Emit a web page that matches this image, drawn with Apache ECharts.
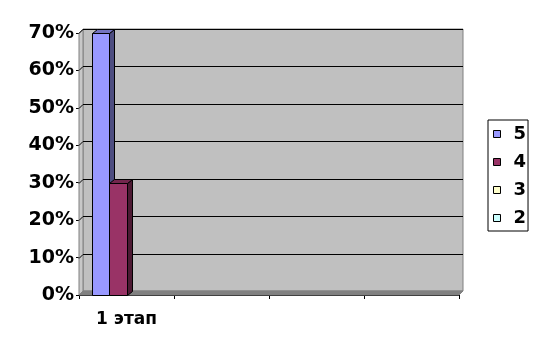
<!DOCTYPE html>
<html><head><meta charset="utf-8">
<script src="https://cdn.jsdelivr.net/npm/echarts@6/dist/echarts.min.js"></script>
<style>html,body{margin:0;padding:0;background:#fff}#c{width:538px;height:349px}</style>
</head><body><div id="c"></div>
<script>
var categories = ['1 этап', '', '', ''];
var seriesNames = ['5', '4', '3', '2'];
var s5 = [0.70, null, null, null];
var s4 = [0.30, null, null, null];
var s3 = [0, null, null, null];
var s2 = [0, null, null, null];
var yTicks = [0, 0.1, 0.2, 0.3, 0.4, 0.5, 0.6, 0.7];

var seriesValues = [s5, s4, s3, s2];
var frontColors = ['#9999FF', '#993366', '#FFFFCC', '#CCFFFF'];
var sideColors = ['#4D4D80', '#4D1A33', '#808066', '#668080'];
var topColors = ['#7373BF', '#73264D', '#BFBF99', '#99BFBF'];
var DX = 5, DY = -4, WD = 4;

var chart = echarts.init(document.getElementById('c'));

function wallRender(params, api) {
  var cs = params.coordSys;
  var x0 = cs.x, x1 = cs.x + cs.width, yT = cs.y, y0 = cs.y + cs.height;
  var kids = [];
  kids.push({type:'polygon', shape:{points:[[x0+WD,yT-WD],[x1+WD,yT-WD],[x1+WD,y0-WD],[x0+WD,y0-WD]]},
    style:{fill:'#C0C0C0', stroke:'#808080', lineWidth:1}});
  kids.push({type:'polygon', shape:{points:[[x0,y0],[x0,yT],[x0+WD,yT-WD],[x0+WD,y0-WD]]},
    style:{fill:'#C8C8C8', stroke:'#808080', lineWidth:1}});
  kids.push({type:'polygon', shape:{points:[[x0,y0],[x1,y0],[x1+WD,y0-WD],[x0+WD,y0-WD]]},
    style:{fill:'#808080', stroke:'#808080', lineWidth:1}});
  for (var i = 1; i < yTicks.length; i++) {
    var y = Math.round(api.coord([0, yTicks[i]])[1]) + 0.5;
    kids.push({type:'line', shape:{x1:x0, y1:y, x2:x0+WD, y2:y-WD}, style:{stroke:'#000', lineWidth:1}});
    kids.push({type:'line', shape:{x1:x0+WD, y1:y-WD, x2:x1+WD, y2:y-WD}, style:{stroke:'#000', lineWidth:1}});
  }
  return {type:'group', children:kids};
}

function barRender(sIdx) {
  return function(params, api) {
    var v = api.value(1);
    if (v == null || isNaN(v) || v <= 0) return null;
    var cat = api.value(0);
    var top = api.coord([cat, v]), base = api.coord([cat, 0]);
    var band = api.size([1, 0])[0];
    var bw = band * 0.182;
    var xa = Math.round(top[0] - 2 * bw + sIdx * bw) + 0.5;
    var xb = Math.round(top[0] - 2 * bw + (sIdx + 1) * bw) + 0.5;
    var yt = Math.round(top[1]) + 0.5, yb = Math.round(base[1]) + 0.5;
    var st = {stroke:'#000', lineWidth:1};
    return {type:'group', children:[
      {type:'polygon', shape:{points:[[xb,yt],[xb+DX,yt+DY],[xb+DX,yb+DY],[xb,yb]]}, style:Object.assign({fill:sideColors[sIdx]}, st)},
      {type:'polygon', shape:{points:[[xa,yt],[xa+DX,yt+DY],[xb+DX,yt+DY],[xb,yt]]}, style:Object.assign({fill:topColors[sIdx]}, st)},
      {type:'rect', shape:{x:xa, y:yt, width:xb-xa, height:yb-yt}, style:Object.assign({fill:frontColors[sIdx]}, st)}
    ]};
  };
}

var series = [{
  type:'custom', name:'wall', renderItem:wallRender, data:[[0, 0]], z:1, silent:true, clip:false
}];
seriesNames.forEach(function(n, i) {
  series.push({
    type:'custom', name:n, z:5, clip:false,
    itemStyle:{color:frontColors[i], borderColor:'#000', borderWidth:1},
    renderItem:barRender(i),
    data: seriesValues[i].map(function(v, k){ return [k, v]; })
  });
});

chart.setOption({
  animation:false,
  backgroundColor:'#fff',
  grid:{left:79, right:79, top:33, bottom:54},
  legend:{
    data:seriesNames, orient:'vertical', left:488, top:120,
    padding:[5, 2, 4, 5], itemGap:10, itemWidth:7, itemHeight:7, icon:'rect',
    borderColor:'#000', borderWidth:1, borderRadius:0,
    itemStyle:{borderColor:'#000', borderWidth:1},
    textStyle:{fontFamily:'DejaVu Sans', fontWeight:'bold', fontSize:18, color:'#000', lineHeight:18, padding:[0,0,0,8]}
  },
  xAxis:{
    type:'category', data:categories, boundaryGap:true,
    axisLine:{lineStyle:{color:'#000', width:1}},
    axisTick:{show:true, length:4, lineStyle:{color:'#000'}},
    axisLabel:{interval:0, margin:16, fontFamily:'DejaVu Sans', fontWeight:'bold', fontSize:17, color:'#000'},
    splitLine:{show:false}
  },
  yAxis:{
    type:'value', min:0, max:0.7, interval:0.1,
    axisLine:{show:true, lineStyle:{color:'#000', width:1}},
    axisTick:{show:true, length:3, lineStyle:{color:'#000'}},
    axisLabel:{margin:5, fontFamily:'DejaVu Sans', fontWeight:'bold', fontSize:19, color:'#000',
      formatter:function(v){ return Math.round(v * 100) + '%'; }},
    splitLine:{show:false}
  },
  series:series
});
</script></body></html>
